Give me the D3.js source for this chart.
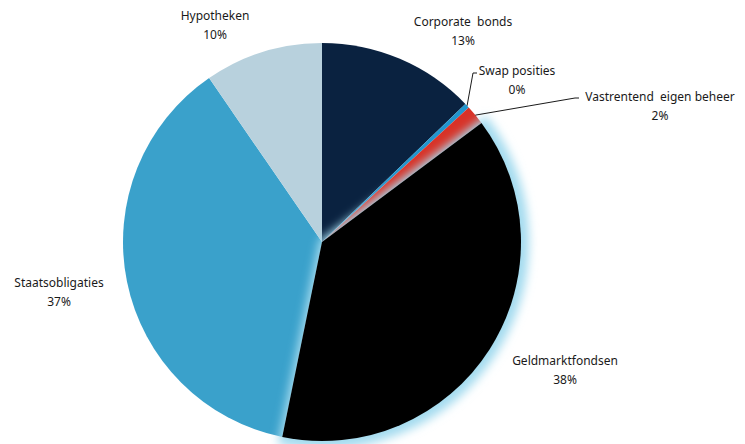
<!DOCTYPE html>
<html>
<head>
<meta charset="utf-8">
<script src="https://cdn.jsdelivr.net/npm/d3@7"></script>
<style>
  body { margin: 0; background: #fff; }
  svg { display: block; }
  .lbl { font-family: "Noto Sans", sans-serif; font-size: 12px; fill: #1a1a1a; }
  .leader { stroke: #1a1a1a; stroke-width: 1; fill: none; }
</style>
</head>
<body>
<svg id="chart" width="745" height="444"></svg>
<script>
// slice data, clockwise from 12 o'clock
var categories = ["Corporate  bonds", "Swap posities", "Vastrentend  eigen beheer", "Geldmarktfondsen", "Staatsobligaties", "Hypotheken"];
var values = [12.8, 0.4, 1.6, 38.4, 37.2, 9.6];
var colors = ["#0a2240", "#2196cf", "#d83227", "#000000", "#3aa1cb", "#b8d1dd"];

// label layout (center of the two text lines)
var labelPos = [[463, 22], [517, 71], [660, 97], [565, 361], [59, 283], [215, 16]];
// labels that get a leader line: [index, elbow x, elbow y, end x]
var leaders = [[1, 473, 73, 477], [2, 575, 98, 579]];

var svg = d3.select("#chart");
var cx = 322, cy = 242, radius = 199;

var defs = svg.append("defs");
var glow = defs.append("filter").attr("id", "glow")
	.attr("x", "-20%").attr("y", "-20%").attr("width", "140%").attr("height", "140%");
glow.append("feGaussianBlur").attr("stdDeviation", 5);

var pie = d3.pie().sort(null).value(function(d){ return d; });
var arcs = pie(values);

var arc = d3.arc().innerRadius(0).outerRadius(radius);
var glowArc = d3.arc().innerRadius(0).outerRadius(radius + 5);

var g = svg.append("g").attr("transform", "translate(" + cx + "," + cy + ")");

// all slices except the highlighted one
g.selectAll("path.slice")
	.data(arcs.filter(function(d, i){ return i != 3; }))
	.enter().append("path")
	.attr("class", "slice")
	.attr("d", arc)
	.attr("fill", function(d){ return colors[d.index]; });

// light blue glow round the money market slice
g.append("path")
	.attr("d", glowArc(arcs[3]))
	.attr("fill", "#a4dbef")
	.attr("stroke", "#a4dbef")
	.attr("stroke-width", 6)
	.attr("filter", "url(#glow)");

g.append("path")
	.attr("d", arc(arcs[3]))
	.attr("fill", colors[3]);

// leader lines from the slice rim
var rimArc = d3.arc().innerRadius(radius).outerRadius(radius);
leaders.forEach(function(l) {
	var p = rimArc.centroid(arcs[l[0]]);
	var pts = [[cx + p[0], cy + p[1]], [l[1], l[2]], [l[3], l[2]]];
	svg.append("path")
		.attr("class", "leader")
		.attr("d", d3.line()(pts));
});

// labels
var lab = svg.selectAll("text.lbl")
	.data(arcs)
	.enter().append("text")
	.attr("class", "lbl")
	.attr("text-anchor", "middle")
	.attr("transform", function(d, i){ return "translate(" + labelPos[i][0] + "," + labelPos[i][1] + ")"; });

lab.append("tspan")
	.attr("x", 0).attr("dy", "0.35em")
	.attr("xml:space", "preserve")
	.style("white-space", "pre")
	.text(function(d, i){ return categories[i]; });
lab.append("tspan")
	.attr("x", 0).attr("dy", 19)
	.text(function(d){ return Math.round(d.value) + "%"; });
</script>
</body>
</html>
